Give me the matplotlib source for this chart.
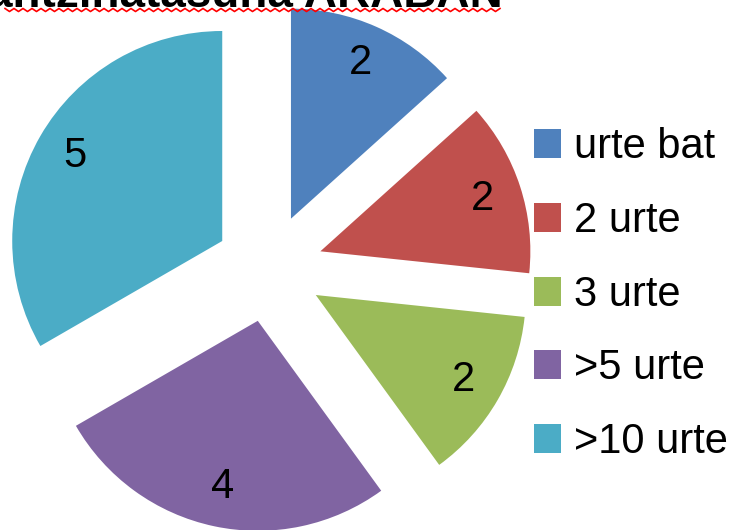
import numpy as np
import matplotlib
matplotlib.use('Agg')
import matplotlib.pyplot as plt

labels = ['urte bat', '2 urte', '3 urte', '>5 urte', '>10 urte']
values = [2, 2, 2, 4, 5]
colors = ['#4F81BD', '#C0504D', '#9BBB59', '#8064A2', '#4BACC6']
title = 'antzinatasuna ARABAN'

plt.rcParams['font.family'] = ['Liberation Sans', 'DejaVu Sans']

fig = plt.figure(figsize=(7.46, 5.3), dpi=100)
ax = fig.add_axes([0, 0, 1, 1])

total = sum(values)
# explode va en unidades de datos (pixeles aqui)
wedges, texts, autotexts = ax.pie(
    values, colors=colors, startangle=90, counterclock=False,
    explode=[54] * len(values), center=(269, 262), radius=210,
    autopct=lambda p: f'{p * total / 100:.0f}', pctdistance=0.81,
    textprops={'fontsize': 30, 'color': 'black'},
    wedgeprops={'linewidth': 0})

ax.set_xlim(0, 746)
ax.set_ylim(0, 530)
ax.set_aspect('equal')
ax.axis('off')

ax.legend(wedges, labels, loc='center left', bbox_to_anchor=(0.666, 0.444),
          frameon=False, fontsize=30, handlelength=0.65, handleheight=0.7,
          handletextpad=0.3, labelspacing=0.81, borderpad=0.4)

# titulo cortado arriba con subrayado ondulado rojo
fig.text(503 / 746, 1 - 7 / 530, title, ha='right', va='baseline',
         fontsize=33, fontweight='bold')
xs = np.arange(5, 504, 4.5)
ys = 530 - 10 + np.where(np.arange(len(xs)) % 2 == 0, 1.5, -1.5)
ax.plot(xs, ys, color='red', lw=1.2, clip_on=False)

fig.savefig('out.png', dpi=100)
